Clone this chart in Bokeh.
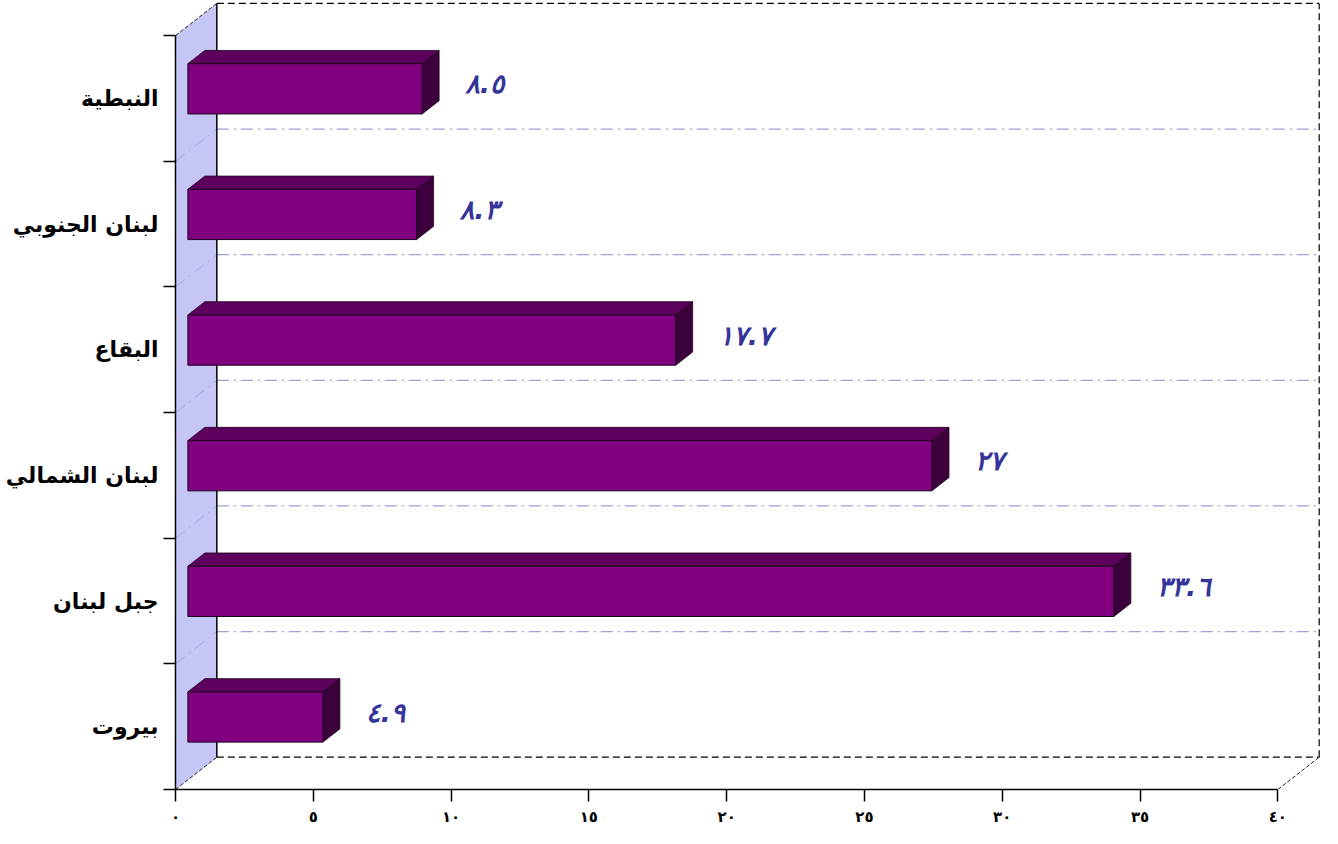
from bokeh.plotting import figure
from bokeh.models import Range1d, FixedTicker, ColumnDataSource
from bokeh.embed import file_html
from bokeh.resources import INLINE
from bokeh.core.properties import value

# ---- data ----
categories = ["بيروت", "جبل لبنان", "لبنان الشمالي", "البقاع", "لبنان الجنوبي", "النبطية"]
values = [4.9, 33.6, 27, 17.7, 8.3, 8.5]
x_ticks = [0, 5, 10, 15, 20, 25, 30, 35, 40]

AR = str.maketrans("0123456789", "٠١٢٣٤٥٦٧٨٩")


def ar(v):
    return f"{v:g}".translate(AR)


x_tick_labels = {t: ar(t) for t in x_ticks}
value_labels = [ar(v) for v in values]

# ---- 3D geometry (styling constants, data units) ----
n = len(categories)
xmax = x_ticks[-1]
DX, DY = 1.5, 0.257      # depth offset of the back wall
D1, D2 = 0.30, 0.71      # bar depth (front / back)
BAR_H = 0.40             # bar thickness as share of a category

p = figure(width=1322, height=828,
           x_range=Range1d(0, xmax + DX + 0.12), y_range=Range1d(0, n + 0.28),
           output_backend="svg", toolbar_location=None,
           min_border_left=175, min_border_right=0, min_border_top=0, min_border_bottom=36)
p.outline_line_color = None
p.grid.visible = False
p.background_fill_color = "white"

# side wall
p.patch([0, DX, DX, 0], [0, DY, n + DY, n], fill_color="#c6c6f6", line_color=None)

# gridlines (back wall + side wall)
ks = list(range(1, n))
p.multi_line([[DX, xmax + DX] for k in ks], [[k + DY, k + DY] for k in ks],
             line_color="#a29cd8", line_width=1.2, line_dash="12 5 2 5")
p.multi_line([[0, DX] for k in ks], [[k, k + DY] for k in ks],
             line_color="#aaa6de", line_width=1, line_dash="12 5 2 5")

# back wall / floor edges
p.line([DX, DX], [DY, n + DY], line_color="black", line_width=1.5)
p.multi_line([[DX, xmax + DX], [xmax + DX, xmax + DX], [DX, xmax + DX]],
             [[n + DY, n + DY], [DY, n + DY], [DY, DY]],
             line_color="black", line_width=1.2, line_dash="7 4")
p.multi_line([[0, DX], [0, DX], [xmax, xmax + DX]],
             [[0, DY], [n, n + DY], [0, DY]],
             line_color="#222222", line_width=1, line_dash="4 2")

# bars
ox, oy = DX * (D2 - D1), DY * (D2 - D1)
x0 = DX * D1
lefts, rights, bottoms, tops = [], [], [], []
top_xs, top_ys, side_xs, side_ys = [], [], [], []
for i, v in enumerate(values):
    y0 = i + (1 - BAR_H) / 2 + DY * D1
    y1 = y0 + BAR_H
    x1 = v + DX * D1
    lefts.append(x0); rights.append(x1); bottoms.append(y0); tops.append(y1)
    top_xs.append([x0, x0 + ox, x1 + ox, x1]); top_ys.append([y1, y1 + oy, y1 + oy, y1])
    side_xs.append([x1, x1 + ox, x1 + ox, x1]); side_ys.append([y1, y1 + oy, y0 + oy, y0])

p.patches(top_xs, top_ys, fill_color="#5e005e", line_color="#1a001a", line_width=0.8)
p.patches(side_xs, side_ys, fill_color="#3c003c", line_color="#1a001a", line_width=0.8)
p.quad(left=lefts, right=rights, bottom=bottoms, top=tops,
       fill_color="#800080", line_color="#1a001a", line_width=1)

# value labels
src = ColumnDataSource(dict(
    x=[v + DX * D2 + 0.95 for v in values],
    y=[i + 0.5 + DY * 0.45 for i in range(n)],
    t=value_labels))
p.text(x="x", y="y", text="t", source=src, text_align="left", text_baseline="middle",
       text_color="#34349a", text_font=value("DejaVu Sans"), text_font_style="bold italic",
       text_font_size="27px")

# axes
xa = p.xaxis[0]
xa.ticker = FixedTicker(ticks=x_ticks, minor_ticks=[])
xa.major_label_overrides = x_tick_labels
xa.bounds = (0, xmax)
xa.axis_line_color = "black"
xa.axis_line_width = 1.5
xa.major_tick_out = 12
xa.major_tick_in = 0
xa.major_tick_line_width = 1.5
xa.major_tick_line_color = "black"
xa.minor_tick_line_color = None
xa.major_label_standoff = 6
xa.major_label_text_font = "DejaVu Sans"
xa.major_label_text_font_style = "bold"
xa.major_label_text_font_size = "15px"
xa.major_label_text_color = "black"

ya = p.yaxis[0]
ya.ticker = FixedTicker(ticks=[i + 0.5 for i in range(n)], minor_ticks=list(range(n + 1)))
ya.major_label_overrides = {i + 0.5: c for i, c in enumerate(categories)}
ya.bounds = (0, n)
ya.axis_line_color = "black"
ya.axis_line_width = 1.5
ya.major_tick_out = 0
ya.major_tick_in = 0
ya.minor_tick_out = 12
ya.minor_tick_in = 0
ya.minor_tick_line_color = "black"
ya.minor_tick_line_width = 1.5
ya.major_label_standoff = 5
ya.major_label_text_font = "DejaVu Sans"
ya.major_label_text_font_style = "bold"
ya.major_label_text_font_size = "22px"
ya.major_label_text_color = "black"

open("out.html", "w").write(file_html(p, INLINE))
